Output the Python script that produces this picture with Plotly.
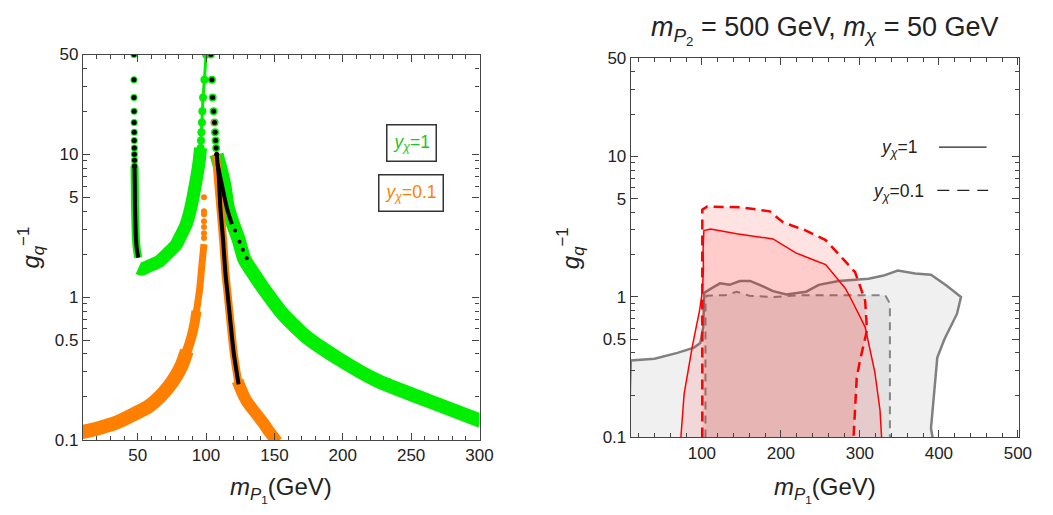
import numpy as np
import plotly.graph_objects as go

# ---------------- left panel : scan points ----------------
# y_chi = 1 (green) : thin column at m_P1 ~ m_chi
gcol_x = [47.3, 47.3, 47.3, 47.4, 47.4, 47.5, 47.5, 47.6, 47.6, 47.7, 47.7]
gcol_y = [50, 33.3, 25, 20, 16.7, 14.3, 12.5, 11.1, 10, 9.1, 8.3]
gcol2_x = [47.7, 47.9, 48.0, 48.3, 48.7, 49.3, 50.4]
gcol2_y = [8.3, 6.0, 4.4, 3.4, 2.6, 2.2, 1.89]

# y_chi = 1 : band rising towards the second resonance
gB_x = [50.5, 53, 58, 66, 72.5, 78, 82, 85.3, 88, 90.1, 92, 93.7, 95, 96]
gB_y = [1.6, 1.57, 1.65, 1.79, 2.05, 2.32, 2.75, 3.2, 3.9, 4.8, 6.0, 7.4, 9.0, 11.1]
gB2_x = [96, 96.3, 96.6, 97, 97.3, 97.8, 98.8, 100]
gB2_y = [11.1, 12.5, 14.3, 16.7, 20, 25, 33.3, 50]

# y_chi = 1 : falling band above the resonance
gC_x = [103.5, 104.3, 104.8, 105.5, 106.2, 106.6, 107.0, 107.4]
gC_y = [50, 33.3, 25, 20, 16.7, 14.3, 12.5, 11.1]
gC2_x = [107.8, 109, 110.5, 113.5, 116, 120, 124, 128, 136, 141.8, 156.2, 173, 197, 226, 262, 301]
gC2_y = [10, 9, 8.0, 6.0, 4.2, 3.2, 2.5, 1.85, 1.4, 1.16, 0.76, 0.53, 0.37, 0.258, 0.189, 0.136]

# y_chi = 0.1 (orange)
oL_x = [8, 20, 34, 45, 58, 66, 72.5, 78, 82, 86]
oL_y = [0.113, 0.12, 0.132, 0.148, 0.172, 0.2, 0.235, 0.28, 0.33, 0.42]
oL1_x = [85, 86, 89.4, 91.5, 93]
oL1_y = [0.4, 0.42, 0.53, 0.65, 0.8]
oL2_x = [92.5, 93, 94.5, 95.4, 96.5, 97.5, 98.5]
oL2_y = [0.75, 0.8, 1.0, 1.15, 1.5, 1.9, 2.35]
odot_x = [98.5, 98.5, 98.5, 98.5, 98.5, 98.5, 98.5, 105.7]
odot_y = [5.0, 4.0, 3.8, 3.4, 3.1, 2.8, 2.6, 16.7]
oR_x = [107.4, 108.5, 110.5, 112.5, 114.1, 116, 117.7, 120.2, 123.8]
oR_y = [10, 7, 4.2, 2.5, 1.5, 1.0, 0.69, 0.41, 0.245]
oR2_x = [123, 127, 130, 135, 141.8, 146, 152]
oR2_y = [0.26, 0.21, 0.185, 0.16, 0.132, 0.115, 0.097]

# black points (overlap of constraints)
bL_x = gcol_x
bL_y = gcol_y
bL2_x = gcol2_x
bL2_y = gcol2_y
bR_x = [103.5, 104.3, 104.8, 105.5, 106.2, 106.6, 107.0, 107.4, 107.8]
bR_y = [50, 33.3, 25, 20, 16.7, 14.3, 12.5, 11.1, 10]
bS_x = [107.8, 108.5, 109.3, 110.5, 112.5, 114.1, 116, 117.7, 120.2, 123.8]
bS_y = [10, 8.5, 7.05, 4.2, 2.5, 1.5, 1.0, 0.69, 0.41, 0.245]
bG_x = [108.5, 110, 111.7, 113.5, 115.3, 117, 118.9]
bG_y = [8.5, 7.2, 6.04, 5.0, 4.2, 3.7, 3.25]
bGs_x = [121.3, 124.5, 126.9, 129.8]
bGs_y = [2.93, 2.44, 2.15, 1.87]

# ---------------- right panel : contours ----------------
gs_x = [7, 10, 40, 69, 90, 98, 101.7, 103, 112, 123, 135, 148, 161, 173, 190, 207, 232, 248,
        273, 311, 330, 348, 370, 390, 410, 428, 423, 407, 398, 394, 390, 392, 392]
gs_y = [0.09, 0.353, 0.363, 0.40, 0.436, 0.47, 0.61, 1.07, 1.15, 1.25, 1.22, 1.3, 1.3, 1.22,
        1.1, 1.04, 1.09, 1.22, 1.3, 1.35, 1.42, 1.54, 1.47, 1.44, 1.2, 1.0, 0.76, 0.5, 0.37,
        0.2, 0.116, 0.1, 0.09]
gd_x = [104.5, 104.5, 106, 130, 144, 160, 190, 228, 260, 290, 332, 338, 338]
gd_y = [0.1, 0.95, 1.02, 1.03, 1.09, 1.02, 1.0, 1.03, 1.03, 1.03, 1.03, 0.9, 0.1]
rs_x = [73.4, 77.5, 88, 97, 100.5, 102, 101.5, 102.5, 111, 144, 190, 219, 240, 256.7,
        281.7, 290, 306.7, 319, 325.5, 327.5]
rs_y = [0.1, 0.204, 0.448, 0.8, 1.09, 1.6, 2.17, 2.97, 3.05, 2.82, 2.59, 2.06, 1.85, 1.7,
        1.15, 0.94, 0.61, 0.29, 0.156, 0.1]
rd_x = [100.5, 100.5, 106.7, 150, 186, 203, 230, 256.7, 277.5, 294, 306.7, 309, 300, 296, 292]
rd_y = [0.1, 4.19, 4.4, 4.35, 4.07, 3.39, 3.0, 2.54, 1.9, 1.5, 0.94, 0.58, 0.35, 0.265, 0.1]

GREEN = '#00ee00'
ORANGE = '#ff8000'

fig = go.Figure()


def band(x, y, color, width, xa='x', ya='y'):
    fig.add_trace(go.Scatter(x=x, y=y, mode='lines', xaxis=xa, yaxis=ya,
                             line=dict(color=color, width=width, shape='spline', smoothing=0.6)))


def dots(x, y, color, size):
    fig.add_trace(go.Scatter(x=x, y=y, mode='markers', xaxis='x', yaxis='y',
                             marker=dict(color=color, size=size, line=dict(width=0))))


# green first, orange over it, black on top
band(gB_x, gB_y, GREEN, 13)
band(gB2_x, gB2_y, GREEN, 3)
dots(gB2_x, gB2_y, GREEN, 8)
dots(gC_x, gC_y, GREEN, 8)
band(gC2_x, gC2_y, GREEN, 14)
dots(gcol_x, gcol_y, GREEN, 7)
band(gcol2_x, gcol2_y, GREEN, 8)

band(oL_x, oL_y, ORANGE, 14)
band(oL1_x, oL1_y, ORANGE, 10)
band(oL2_x, oL2_y, ORANGE, 7)
dots(odot_x, odot_y, ORANGE, 6)
band(oR_x, oR_y, ORANGE, 8)
band(oR2_x, oR2_y, ORANGE, 12)

dots(bL_x, bL_y, 'black', 5)
band(bL2_x, bL2_y, 'black', 4)
dots(bR_x, bR_y, 'black', 5)
band(bS_x, bS_y, 'black', 4)
band(bG_x, bG_y, 'black', 4)
dots(bGs_x, bGs_y, 'black', 4)

# right panel fills and contours
fig.add_trace(go.Scatter(x=gs_x, y=gs_y, mode='lines', fill='toself', xaxis='x2', yaxis='y2',
                         fillcolor='rgba(0,0,0,0.06)', line=dict(color='#808080', width=2.5)))
fig.add_trace(go.Scatter(x=gd_x, y=gd_y, mode='lines', fill='toself', xaxis='x2', yaxis='y2',
                         fillcolor='rgba(0,0,0,0.05)',
                         line=dict(color='#858585', width=2, dash='8px,6px')))
fig.add_trace(go.Scatter(x=rd_x, y=rd_y, mode='lines', fill='toself', xaxis='x2', yaxis='y2',
                         fillcolor='rgba(255,0,0,0.11)',
                         line=dict(color='#ff0000', width=2.5, dash='10px,6px')))
fig.add_trace(go.Scatter(x=rs_x, y=rs_y, mode='lines', fill='toself', xaxis='x2', yaxis='y2',
                         fillcolor='rgba(255,0,0,0.10)', line=dict(color='#ff0000', width=1.5)))

FONT = 'Liberation Sans'
ylog = [-1, np.log10(50)]
ytv = [0.1, 0.5, 1, 5, 10, 50]
ytt = ['0.1', '0.5', '1', '5', '10', '50']
yminor = [0.2, 0.3, 0.4, 0.6, 0.7, 0.8, 0.9, 2, 3, 4, 6, 7, 8, 9, 20, 30, 40]

common = dict(showline=True, mirror='allticks', linecolor='#444', linewidth=1.2,
              ticks='inside', tickcolor='#444', ticklen=7, tickwidth=1, showgrid=False,
              zeroline=False, tickfont=dict(family=FONT, size=17, color='#222'))

# page body keeps its default 8px margin, so the figure is 16px smaller than the window
fig.update_layout(
    width=1037, height=499, margin=dict(l=0, r=0, t=0, b=0),
    paper_bgcolor='white', plot_bgcolor='white', showlegend=False,
    xaxis=dict(domain=[0.0733, 0.4609], range=[10, 300], anchor='y',
               tickvals=[50, 100, 150, 200, 250, 300],
               minor=dict(tickvals=list(range(10, 300, 10)), ticklen=4, ticks='inside',
                          tickcolor='#444'), **common),
    yaxis=dict(domain=[0.1188, 0.9218], type='log', range=ylog, anchor='x',
               tickvals=ytv, ticktext=ytt,
               minor=dict(tickvals=yminor, ticklen=4, ticks='inside', tickcolor='#444'),
               **common),
    xaxis2=dict(domain=[0.6088, 0.9887], range=[10, 502], anchor='y2',
                tickvals=[100, 200, 300, 400, 500],
                minor=dict(tickvals=list(range(20, 500, 20)), ticklen=4, ticks='inside',
                           tickcolor='#444'), **common),
    yaxis2=dict(domain=[0.1242, 0.9138], type='log', range=ylog, anchor='x2',
                tickvals=ytv, ticktext=ytt,
                minor=dict(tickvals=yminor, ticklen=4, ticks='inside', tickcolor='#444'),
                **common),
)

xt = '<i>m</i><sub><i>P</i><sub>1</sub></sub>(GeV)'
yt = '<i>g</i><sub><i>q</i></sub><sup>−1</sup>'
leg1 = '<i>y</i><sub><i>χ</i></sub>=1'
leg2 = '<i>y</i><sub><i>χ</i></sub>=0.1'
ann = [
    dict(x=0.2671, y=0.016, text=xt, font=dict(size=24)),
    dict(x=0.7985, y=0.016, text=xt, font=dict(size=24)),
    dict(x=0.0222, y=0.519, text=yt, textangle=-90, font=dict(size=24)),
    dict(x=0.5497, y=0.519, text=yt, textangle=-90, font=dict(size=24)),
    dict(x=0.799, y=0.972, text='<i>m</i><sub><i>P</i><sub>2</sub></sub> = 500 GeV, '
                                '<i>m</i><sub><i>χ</i></sub> = 50 GeV', font=dict(size=27)),
    dict(x=0.3944, y=0.7385, text=leg1, font=dict(size=17.5, color='#1fc41f'),
         bordercolor='#333', borderwidth=1.5, borderpad=6),
    dict(x=0.3944, y=0.6343, text=leg2, font=dict(size=17.5, color=ORANGE),
         bordercolor='#333', borderwidth=1.5, borderpad=6),
    dict(x=0.8713, y=0.7255, text=leg1, font=dict(size=17.5)),
    dict(x=0.8708, y=0.6353, text=leg2, font=dict(size=17.5)),
]
for a in ann:
    a.setdefault('xref', 'paper')
    a.setdefault('yref', 'paper')
    a.setdefault('xanchor', 'center')
    a.setdefault('yanchor', 'middle')
    a.setdefault('showarrow', False)
    a['font'].setdefault('family', FONT)
    a['font'].setdefault('color', '#222')
    fig.add_annotation(**a)

fig.add_shape(type='line', xref='paper', yref='paper', x0=0.910, x1=0.9566, y0=0.7289, y1=0.7289,
              line=dict(color='#222', width=1.3))
fig.add_shape(type='line', xref='paper', yref='paper', x0=0.9084, x1=0.9582, y0=0.6387, y1=0.6387,
              line=dict(color='#222', width=1.3, dash='12px,8px'))

fig.write_html("out.html")
